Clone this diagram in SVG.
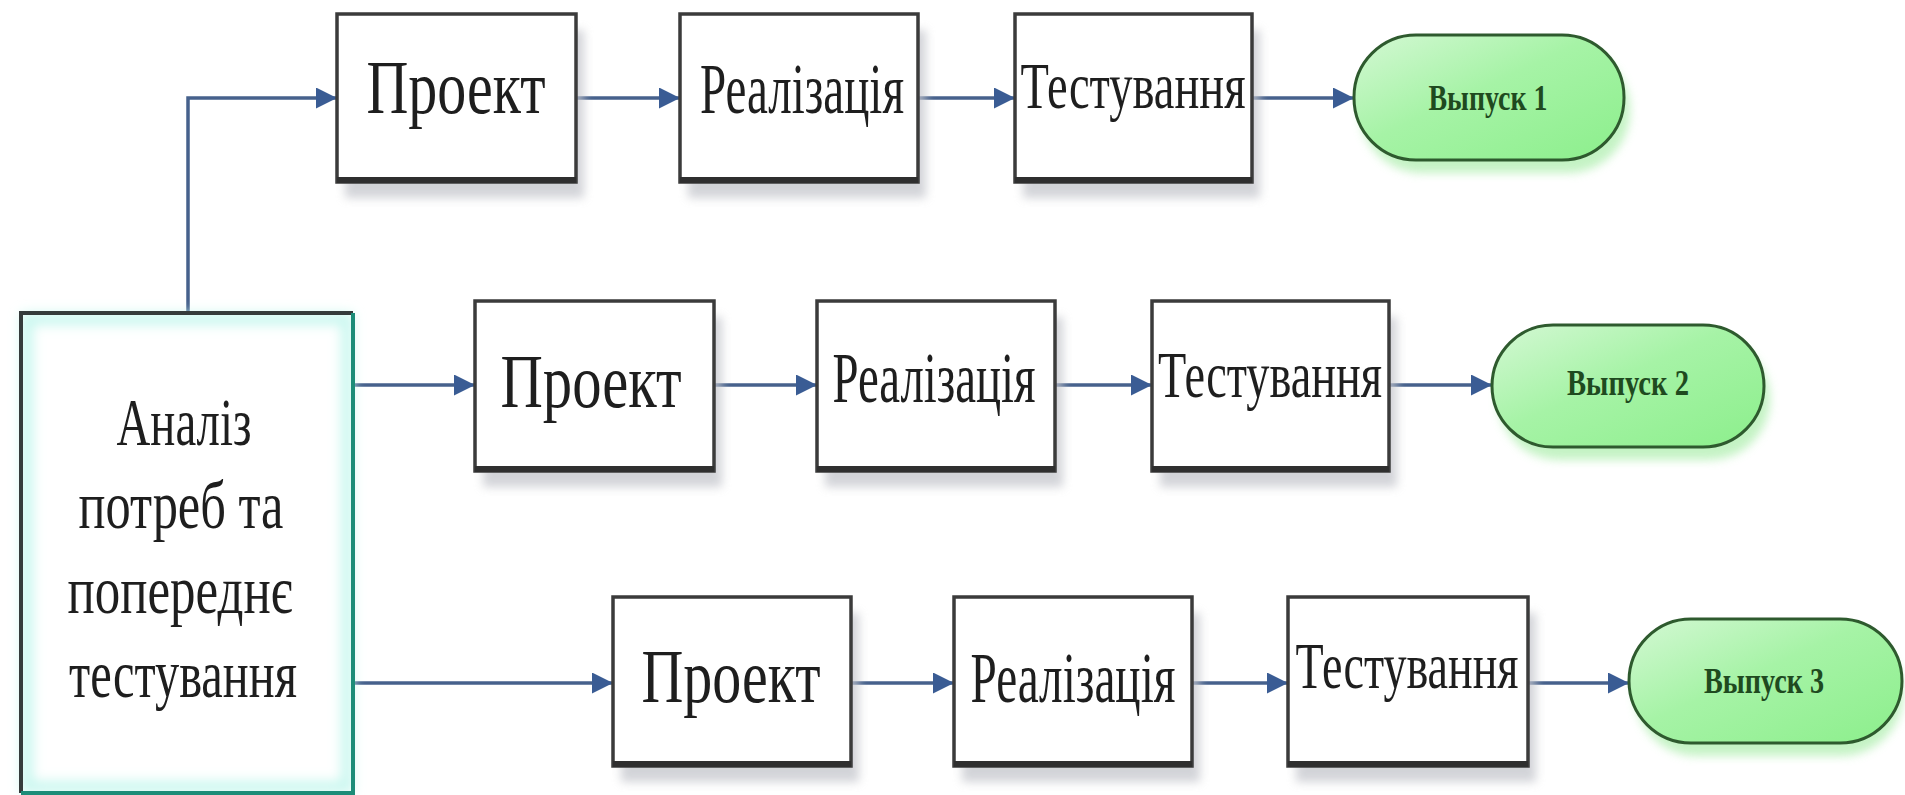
<svg xmlns="http://www.w3.org/2000/svg" width="1905" height="795" viewBox="0 0 1905 795">
  <defs>
    <style>
      .box { fill: #ffffff; stroke: #3b3b3b; stroke-width: 3.5; }
      .base { fill: none; stroke: #2f2f2f; stroke-width: 6; }
      .shadow { fill: #c4c6cc; opacity: 0.75; filter: url(#soft); }
      .gshadow { fill: #b6f0b6; opacity: 0.8; filter: url(#soft); }
      .lbl { font-family: "Liberation Serif", "Times New Roman", serif; fill: #1e1e1e; text-anchor: middle; }
      .rel { font-family: "Liberation Serif", "Times New Roman", serif; fill: #1f4a1f; font-weight: bold; text-anchor: middle; }
      .pill { fill: url(#green); stroke: #2e5a2e; stroke-width: 3; }
      .link { fill: none; stroke: #46618c; stroke-width: 3.5; marker-end: url(#head); }
    </style>
    <filter id="soft" x="-20%" y="-20%" width="140%" height="140%">
      <feGaussianBlur stdDeviation="5"/>
    </filter>
    <filter id="glow" x="-10%" y="-10%" width="120%" height="120%">
      <feGaussianBlur stdDeviation="6"/>
    </filter>
    <linearGradient id="green" x1="0" y1="0" x2="1" y2="1">
      <stop offset="0" stop-color="#d4f8d4"/>
      <stop offset="0.45" stop-color="#a6f3a6"/>
      <stop offset="1" stop-color="#8cef8c"/>
    </linearGradient>
    <marker id="head" markerWidth="6" markerHeight="6" refX="6" refY="3" orient="auto" markerUnits="strokeWidth">
      <path d="M0,0 L6,3 L0,6 Z" fill="#3a5c94"/>
    </marker>
  </defs>

  <rect width="1905" height="795" fill="#ffffff"/>

  <!-- connectors -->
  <g id="connectors">
    <path class="link" d="M188,313 V98 H337"/>
    <path class="link" d="M576,98 H680"/>
    <path class="link" d="M918,98 H1015"/>
    <path class="link" d="M1252,98 H1354"/>

    <path class="link" d="M353,385 H475"/>
    <path class="link" d="M714,385 H817"/>
    <path class="link" d="M1055,385 H1152"/>
    <path class="link" d="M1389,385 H1492"/>

    <path class="link" d="M353,683 H613"/>
    <path class="link" d="M851,683 H954"/>
    <path class="link" d="M1192,683 H1288"/>
    <path class="link" d="M1528,683 H1629"/>
  </g>

  <!-- requirements analysis -->
  <g id="analysis">
    <rect x="21" y="313" width="332" height="480" fill="#ffffff"/>
    <rect x="27" y="319" width="320" height="468" fill="none" stroke="#c9f7ef" stroke-width="12" filter="url(#glow)"/>
    <path d="M21,793 V313 H353" fill="none" stroke="#353b3b" stroke-width="4"/>
    <path d="M353,313 V793 H21" fill="none" stroke="#1c8c78" stroke-width="4"/>
    <text class="lbl" x="184" y="445" font-size="68" textLength="135" lengthAdjust="spacingAndGlyphs">Аналіз</text>
    <text class="lbl" x="181" y="528" font-size="68" textLength="205" lengthAdjust="spacingAndGlyphs">потреб та</text>
    <text class="lbl" x="180" y="613" font-size="68" textLength="225" lengthAdjust="spacingAndGlyphs">попереднє</text>
    <text class="lbl" x="183" y="697" font-size="68" textLength="228" lengthAdjust="spacingAndGlyphs">тестування</text>
  </g>

  <!-- release 1 -->
  <g id="design1">
    <rect class="shadow" x="345" y="30" width="239" height="168"/>
    <rect class="box" x="337" y="14" width="239" height="168"/>
    <path class="base" d="M337,180 H576"/>
    <text class="lbl" x="456" y="113" font-size="76" textLength="179" lengthAdjust="spacingAndGlyphs">Проект</text>
  </g>
  <g id="build1">
    <rect class="shadow" x="688" y="30" width="238" height="168"/>
    <rect class="box" x="680" y="14" width="238" height="168"/>
    <path class="base" d="M680,180 H918"/>
    <text class="lbl" x="802" y="113" font-size="71" textLength="204" lengthAdjust="spacingAndGlyphs">Реалізація</text>
  </g>
  <g id="test1">
    <rect class="shadow" x="1023" y="30" width="237" height="168"/>
    <rect class="box" x="1015" y="14" width="237" height="168"/>
    <path class="base" d="M1015,180 H1252"/>
    <text class="lbl" x="1133" y="108" font-size="65" textLength="225" lengthAdjust="spacingAndGlyphs">Тестування</text>
  </g>
  <g id="release1">
    <rect class="gshadow" x="1360" y="48" width="270" height="125" rx="62"/>
    <rect class="pill" x="1354" y="35" width="270" height="125" rx="62"/>
    <text class="rel" x="1488" y="110" font-size="36" textLength="119" lengthAdjust="spacingAndGlyphs">Выпуск 1</text>
  </g>

  <!-- release 2 -->
  <g id="design2">
    <rect class="shadow" x="483" y="317" width="239" height="170"/>
    <rect class="box" x="475" y="301" width="239" height="170"/>
    <path class="base" d="M475,469 H714"/>
    <text class="lbl" x="591" y="407" font-size="76" textLength="181" lengthAdjust="spacingAndGlyphs">Проект</text>
  </g>
  <g id="build2">
    <rect class="shadow" x="825" y="317" width="238" height="170"/>
    <rect class="box" x="817" y="301" width="238" height="170"/>
    <path class="base" d="M817,469 H1055"/>
    <text class="lbl" x="934" y="402" font-size="71" textLength="203" lengthAdjust="spacingAndGlyphs">Реалізація</text>
  </g>
  <g id="test2">
    <rect class="shadow" x="1160" y="317" width="237" height="170"/>
    <rect class="box" x="1152" y="301" width="237" height="170"/>
    <path class="base" d="M1152,469 H1389"/>
    <text class="lbl" x="1270" y="397" font-size="65" textLength="224" lengthAdjust="spacingAndGlyphs">Тестування</text>
  </g>
  <g id="release2">
    <rect class="gshadow" x="1498" y="338" width="272" height="122" rx="61"/>
    <rect class="pill" x="1492" y="325" width="272" height="122" rx="61"/>
    <text class="rel" x="1628" y="395" font-size="36" textLength="122" lengthAdjust="spacingAndGlyphs">Выпуск 2</text>
  </g>

  <!-- release 3 -->
  <g id="design3">
    <rect class="shadow" x="621" y="613" width="238" height="169"/>
    <rect class="box" x="613" y="597" width="238" height="169"/>
    <path class="base" d="M613,764 H851"/>
    <text class="lbl" x="731" y="702" font-size="76" textLength="179" lengthAdjust="spacingAndGlyphs">Проект</text>
  </g>
  <g id="build3">
    <rect class="shadow" x="962" y="613" width="238" height="169"/>
    <rect class="box" x="954" y="597" width="238" height="169"/>
    <path class="base" d="M954,764 H1192"/>
    <text class="lbl" x="1073" y="702" font-size="71" textLength="205" lengthAdjust="spacingAndGlyphs">Реалізація</text>
  </g>
  <g id="test3">
    <rect class="shadow" x="1296" y="613" width="240" height="169"/>
    <rect class="box" x="1288" y="597" width="240" height="169"/>
    <path class="base" d="M1288,764 H1528"/>
    <text class="lbl" x="1407" y="688" font-size="65" textLength="223" lengthAdjust="spacingAndGlyphs">Тестування</text>
  </g>
  <g id="release3">
    <rect class="gshadow" x="1635" y="632" width="268" height="124" rx="62"/>
    <rect class="pill" x="1629" y="619" width="273" height="124" rx="62"/>
    <text class="rel" x="1764" y="693" font-size="36" textLength="120" lengthAdjust="spacingAndGlyphs">Выпуск 3</text>
  </g>
</svg>
